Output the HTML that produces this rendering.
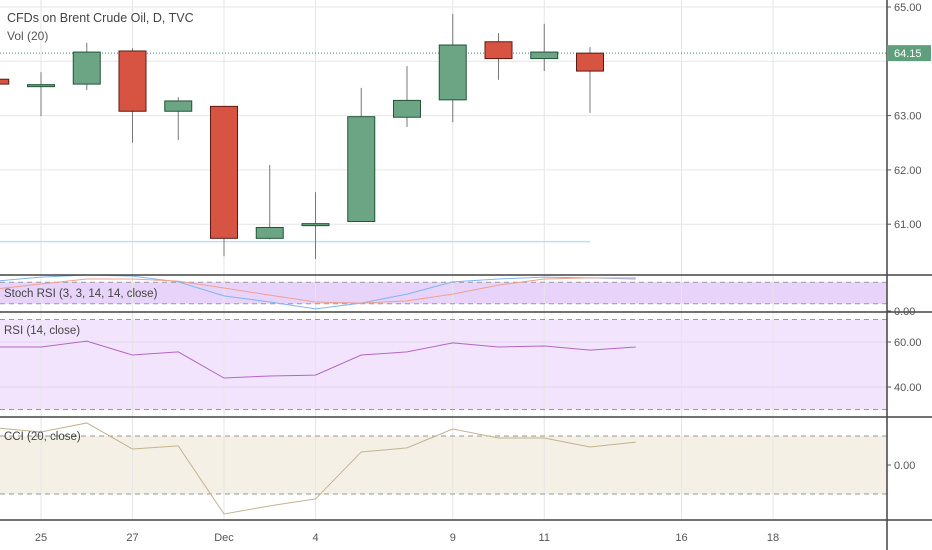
<!DOCTYPE html>
<html><head><meta charset="utf-8"><style>
body{margin:0;background:#fff;}
svg{display:block;font-family:"Liberation Sans",sans-serif;}
</style></head><body>
<svg id="c" width="932" height="550" xmlns="http://www.w3.org/2000/svg"></svg>
<script>
const days=[-1,0,1,2,3,4,5,6,7,8,9,10,11,12];
const openP=[63.67,63.55,63.58,64.19,63.08,63.17,60.74,60.98,61.05,62.97,63.29,64.36,64.05,64.15,63.80];
const closeP=[63.58,63.57,64.17,63.08,63.27,60.74,60.94,61.01,62.98,63.28,64.30,64.05,64.17,63.82,64.15];
const highP=[63.70,63.80,64.34,64.24,63.34,63.17,62.09,61.59,63.51,63.91,64.87,64.52,64.69,64.26,64.39];
const lowP=[63.55,62.99,63.47,62.50,62.55,60.41,60.72,60.36,61.04,62.79,62.88,63.66,63.82,63.05,63.80];
const candleIdx=[-1,0,1,2,3,4,5,6,7,8,9,10,11,12];
const stochK=[83,94,100,97,81,42,25,6,22,47,81,89,94,92,89];
const stochD=[61,75,89,89,83,64,44,25,22,28,47,72,89,92,92];
const rsiV=[57.8,57.8,60.4,54.2,55.6,44.0,44.9,45.3,54.2,55.6,59.6,57.8,58.2,56.4,57.8];
const cciV=[128,114,145,55,66,-169,-141,-117,45,59,124,93,93,62,79];
const priceTicks=[65,63,62,61];
const dateLabels=["25","27","Dec","4","9","11","16","18"];
const dateIdx=[0,2,4,6,9,11,14,16];
const lastPrice=64.15, supportPrice=60.68;

const NS="http://www.w3.org/2000/svg", svg=document.getElementById('c');
const X=i=>41+i*45.75;
const PY=p=>7+(65-p)*54.3;
const SY=v=>311-v*0.36;
const RY=v=>342-(v-60)*2.25;
const CY=v=>465-v*0.29;
function el(t,a,parent){const e=document.createElementNS(NS,t);for(const k in a)e.setAttribute(k,a[k]);(parent||svg).appendChild(e);return e;}
function txt(s,x,y,a){const e=el('text',Object.assign({x:x,y:y,'font-size':11,fill:'#555'},a));e.textContent=s;return e;}

// backgrounds / bands
let b=el('rect',{x:0,y:SY(80),width:887,height:SY(20)-SY(80),fill:'#e8d3fa'});

b=el('rect',{x:0,y:RY(70),width:887,height:RY(30)-RY(70),fill:'#f2e4fd'});

b=el('rect',{x:0,y:CY(100),width:887,height:CY(-100)-CY(100),fill:'#f4f0e6'});


// grid
dateIdx.forEach(i=>{const g=el('line',{x1:X(i),x2:X(i),y1:0,y2:520,stroke:'#e6e6e6','stroke-width':1});
});
[65,64,63,62,61].forEach(p=>{const g=el('line',{x1:0,x2:887,y1:PY(p),y2:PY(p),stroke:'#e6e6e6'});
});
[60,40].forEach(v=>el('line',{x1:0,x2:887,y1:RY(v),y2:RY(v),stroke:'#e2d6ea'}));

// dashed levels
[[SY(80)],[SY(20)],[RY(70)],[RY(30)],[CY(100)],[CY(-100)]].forEach(a=>{const d=el('line',{x1:0,x2:887,y1:a[0],y2:a[0],stroke:'#999','stroke-dasharray':'5,4'});
});

// support line & last price line
let s=el('line',{x1:0,x2:X(12),y1:PY(supportPrice),y2:PY(supportPrice),stroke:'#bfe0f0','stroke-width':1.5});

s=el('line',{x1:0,x2:887,y1:PY(lastPrice),y2:PY(lastPrice),stroke:'#3a8f6a','stroke-dasharray':'1,2'});


// candles
candleIdx.forEach((d,k)=>{
  const o=openP[k],c=closeP[k],up=c>=o,x=X(d);
  const fill=up?'#6ba583':'#d75442',stroke=up?'#225437':'#5b1a13';
  const w=el('line',{x1:x,x2:x,y1:PY(highP[k]),y2:PY(lowP[k]),stroke:'#777'});
  
  const top=PY(Math.max(o,c)),h=Math.max(2,Math.abs(PY(o)-PY(c)));
  const r=el('rect',{x:x-13.5,y:top,width:27,height:h,fill:fill,stroke:stroke,'stroke-width':1});
  
});

// indicator lines
function poly(vals,fy,col,name){const pts=vals.map((v,i)=>X(i-1)+','+fy(v)).join(' ');
  const p=el('polyline',{points:pts,fill:'none',stroke:col,'stroke-width':1});
  }
poly(stochK,SY,'#7fb6f0','stoch-k-line');
poly(stochD,SY,'#f0a090','stoch-d-line');
poly(rsiV,RY,'#b466c8','rsi-line');
poly(cciV,CY,'#c4b38e','cci-line');

// pane separators and axis
[275,312,417,520].forEach(y=>{const l=el('line',{x1:0,x2:932,y1:y,y2:y,stroke:'#444','stroke-width':1.5});
});
let ax=el('line',{x1:887,x2:887,y1:0,y2:550,stroke:'#444','stroke-width':1.5});


// price ticks
priceTicks.forEach(p=>{el('line',{x1:887,x2:891,y1:PY(p),y2:PY(p),stroke:'#555'});
  const t=txt(p.toFixed(2),894,PY(p)+4);});
const lbl=el('rect',{x:887,y:PY(lastPrice)-8,width:44,height:16,fill:'#5f9f7d'});

let t=txt(lastPrice.toFixed(2),894,PY(lastPrice)+4,{fill:'#fff'});
[[SY(0),'0.00'],[RY(60),'60.00'],[RY(40),'40.00'],[CY(0),'0.00']].forEach(a=>{el('line',{x1:887,x2:891,y1:a[0],y2:a[0],stroke:'#555'});
  const tt=txt(a[1],894,a[0]+4);});

// date labels
dateLabels.forEach((s,k)=>{const tt=txt(s,X(dateIdx[k]),541,{'text-anchor':'middle'});
  });

// titles
t=txt('CFDs on Brent Crude Oil, D, TVC',7,22,{'font-size':12.5,fill:'#444'});
t=txt('Vol (20)',7,40,{'font-size':12,fill:'#555'});
t=txt('Stoch RSI (3, 3, 14, 14, close)',4,297,{'font-size':11.5,fill:'#444'});
t=txt('RSI (14, close)',4,334,{'font-size':11.5,fill:'#444'});
t=txt('CCI (20, close)',4,440,{'font-size':11.5,fill:'#444'});
</script>
</body></html>
